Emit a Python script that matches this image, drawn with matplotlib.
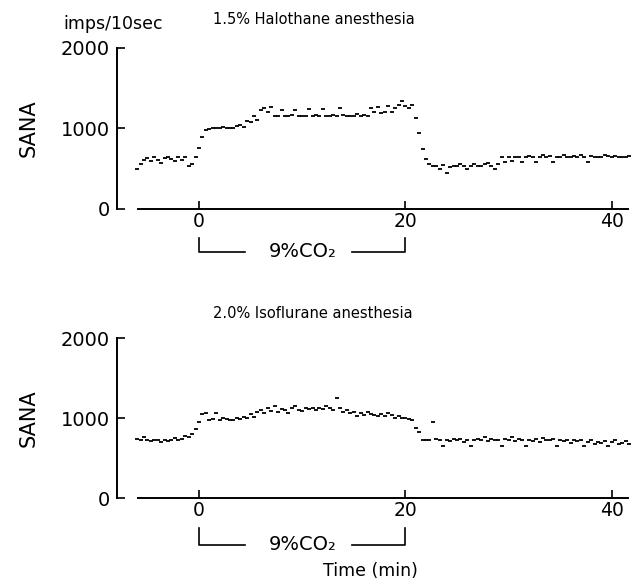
import numpy as np
import matplotlib
matplotlib.use("Agg")
import matplotlib.pyplot as plt
import matplotlib.transforms as mtransforms

# SANA, imps/10sec, one value per 20 s bin starting at -6 min (3 per row = 1 min)
halothane = [
    500, 560, 610,    630, 600, 640,    610, 570, 630,    640, 620, 600,
    650, 610, 640,    540, 560, 650,    760, 900, 980,    990, 1000, 1010,
    1000, 1020, 1000, 1010, 1000, 1030, 1040, 1020, 1090, 1080, 1150, 1110,
    1230, 1260, 1200, 1270, 1160, 1150, 1230, 1160, 1150, 1170, 1230, 1160,
    1150, 1160, 1240, 1150, 1170, 1160, 1240, 1150, 1160, 1170, 1150, 1260,
    1170, 1160, 1150, 1160, 1180, 1150, 1170, 1160, 1250, 1200, 1270, 1190,
    1210, 1280, 1200, 1250, 1290, 1340, 1280, 1260, 1290, 1130, 940, 750,
    620, 560, 530,    540, 500, 550,    450, 520, 540,    530, 560, 540,
    500, 540, 560,    540, 530, 560,    570, 540, 500,    560, 650, 580,
    640, 600, 640,    650, 590, 640,    660, 640, 580,    650, 670, 640,
    660, 580, 650,    640, 670, 650,    650, 660, 640,    670, 650, 580,
    660, 640, 650,    650, 670, 660,    640, 660, 650,    650, 640, 660,
]
isoflurane = [
    740, 730, 760,    720, 710, 730,    720, 700, 720,    710, 730, 750,
    720, 740, 770,    760, 800, 860,    950, 1050, 1060,  980, 990, 1060,
    970, 1000, 990,   980, 970, 1000,   990, 1010, 1000,  1050, 1010, 1070,
    1100, 1060, 1120, 1090, 1150, 1080, 1110, 1100, 1060, 1120, 1150, 1100,
    1090, 1120, 1110, 1130, 1100, 1120, 1110, 1150, 1120, 1100, 1250, 1120,
    1080, 1100, 1060, 1070, 1030, 1060, 1040, 1080, 1050, 1040, 1030, 1050,
    1020, 1060, 1040, 1000, 1030, 1000, 1000, 990, 980,   880, 820, 730,
    730, 720, 950,    740, 720, 650,    730, 710, 740,    720, 740, 700,
    730, 650, 720,    740, 730, 760,    710, 740, 720,    730, 650, 740,
    720, 760, 710,    740, 720, 650,    730, 710, 740,    700, 750, 720,
    720, 740, 650,    730, 710, 720,    690, 720, 710,    730, 650, 700,
    720, 680, 700,    690, 710, 650,    700, 720, 680,    690, 710, 680,
]
t_start = -6.0
bin_min = 1.0 / 3.0
co2_period = [0, 20]

titles = ["1.5% Halothane anesthesia", "2.0% Isoflurane anesthesia"]
x_ticks = [0, 20, 40]
y_ticks = [0, 1000, 2000]

W, H = 636, 583
fig = plt.figure(figsize=(W / 100, H / 100), dpi=100)

def px_box(left, right, top, bottom):
    return [left / W, 1 - bottom / H, (right - left) / W, (bottom - top) / H]

# pixel geometry: 0 min at x=199, 10.32 px/min
x0, ppm = 199.0, 10.32
xlim = ((117 - x0) / ppm, (632 - x0) / ppm)

panels = [
    dict(data=halothane, box=px_box(117, 632, 48, 209), title_y=20, sana_y=128,
         br_top=238, br_bot=252, axis_px=209, h_px=161),
    dict(data=isoflurane, box=px_box(117, 632, 338, 498), title_y=314, sana_y=418,
         br_top=528, br_bot=545, axis_px=498, h_px=160),
]

for i, p in enumerate(panels):
    ax = fig.add_axes(p["box"])
    vals = np.array(p["data"])
    t = t_start + bin_min * np.arange(len(vals))
    ax.plot(t, vals, linestyle="none", marker="_", markersize=2.8,
            markeredgewidth=1.3, color="black")

    ax.set_xlim(*xlim)
    ax.set_ylim(0, 2000)
    for s in ["top", "right"]:
        ax.spines[s].set_visible(False)
    ax.spines["left"].set_bounds(0, 2000)
    ax.spines["bottom"].set_bounds((138 - x0) / ppm, (628 - x0) / ppm)
    ax.spines["left"].set_linewidth(1.4)
    ax.spines["bottom"].set_linewidth(1.4)
    ax.set_xticks(x_ticks)
    ax.set_yticks(y_ticks)
    ax.tick_params(axis="both", direction="in", length=6, width=1.2)
    ax.tick_params(axis="x", labelsize=13.5, pad=2)
    ax.tick_params(axis="y", labelsize=14, pad=5)
    ax.patch.set_visible(False)

    # CO2 bracket
    trans = mtransforms.blended_transform_factory(ax.transData, ax.transAxes)
    yt = (p["axis_px"] - p["br_top"]) / p["h_px"]
    yb = (p["axis_px"] - p["br_bot"]) / p["h_px"]
    a, b = co2_period
    gap_l, gap_r = (245 - x0) / ppm, (352 - x0) / ppm
    ax.plot([a, a, gap_l], [yt, yb, yb], color="black", lw=1.2,
            transform=trans, clip_on=False)
    ax.plot([gap_r, b, b], [yb, yb, yt], color="black", lw=1.2,
            transform=trans, clip_on=False)
    ax.text((a + b) / 2, yb, "9%CO\u2082", transform=trans, ha="center",
            va="center", fontsize=14)

    fig.text(213 / W, 1 - p["title_y"] / H, titles[i], fontsize=10.5,
             ha="left", va="center")
    fig.text(29 / W, 1 - p["sana_y"] / H, "SANA", fontsize=15, rotation=90,
             ha="center", va="center")

fig.text(63 / W, 1 - 24 / H, "imps/10sec", fontsize=12.5, ha="left", va="center")
fig.text(370 / W, 1 - 571 / H, "Time (min)", fontsize=12.5, ha="center", va="center")

fig.savefig("out.png", dpi=100)
